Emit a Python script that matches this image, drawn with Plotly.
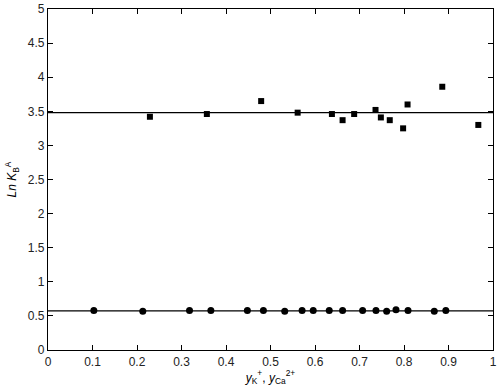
import plotly.graph_objects as go

# Squares (upper series)
sq_x = [0.229, 0.357, 0.479, 0.561, 0.638, 0.662, 0.688, 0.736, 0.748, 0.768, 0.798, 0.808, 0.886, 0.967]
sq_y = [3.42, 3.46, 3.65, 3.48, 3.46, 3.37, 3.46, 3.52, 3.41, 3.37, 3.25, 3.60, 3.86, 3.30]
sq_mean = 3.48

# Circles (lower series)
ci_x = [0.103, 0.213, 0.318, 0.366, 0.448, 0.484, 0.532, 0.571, 0.596, 0.632, 0.662, 0.707, 0.737, 0.761, 0.782, 0.809, 0.868, 0.894]
ci_y = [0.58, 0.57, 0.58, 0.58, 0.58, 0.58, 0.57, 0.58, 0.58, 0.58, 0.58, 0.58, 0.58, 0.57, 0.59, 0.58, 0.57, 0.58]
ci_mean = 0.575

line_x = [0, 1]

fig = go.Figure()
fig.add_trace(go.Scatter(x=line_x, y=[sq_mean, sq_mean], mode="lines",
                         line=dict(color="black", width=1.3), showlegend=False))
fig.add_trace(go.Scatter(x=line_x, y=[ci_mean, ci_mean], mode="lines",
                         line=dict(color="black", width=1.3), showlegend=False))
fig.add_trace(go.Scatter(x=sq_x, y=sq_y, mode="markers",
                         marker=dict(symbol="square", size=6, color="black"), showlegend=False))
fig.add_trace(go.Scatter(x=ci_x, y=ci_y, mode="markers",
                         marker=dict(symbol="circle", size=7, color="black"), showlegend=False))

axis_common = dict(showline=True, linecolor="black", linewidth=1.2, mirror="ticks",
                   ticks="inside", ticklen=5, tickcolor="black", showgrid=False,
                   zeroline=False, ticklabeloverflow="allow",
                   tickfont=dict(family="Liberation Sans, Arial", size=12, color="#222"))

fig.update_xaxes(range=[0, 1], dtick=0.1, tick0=0,
                 title=dict(text="<i>y</i><sub>K</sub><sup>+</sup>, <i>y</i><sub>Ca</sub><sup>2+</sup>",
                            font=dict(family="Liberation Sans, Arial", size=12, color="black"), standoff=4),
                 **axis_common)
fig.update_yaxes(range=[0, 5], dtick=0.5, tick0=0,
                 title=dict(text="<i>Ln K</i><sub>B</sub><sup>A</sup>",
                            font=dict(family="Liberation Sans, Arial", size=12, color="black"), standoff=8),
                 **axis_common)

fig.update_layout(width=499, height=390, margin=dict(l=48, r=2, t=5, b=40),
                  plot_bgcolor="white", paper_bgcolor="white")

fig.write_html("out.html", config={"displayModeBar": False},
               post_script="document.body.style.margin='0';document.body.style.overflow='hidden';")
